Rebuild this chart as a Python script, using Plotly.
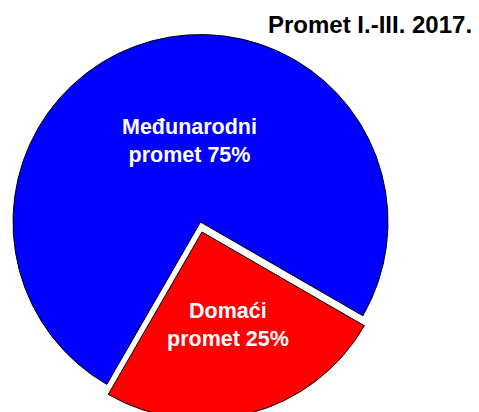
import plotly.graph_objects as go

# share of turnover, Jan-Mar 2017
categories = ["Međunarodni promet", "Domaći promet"]
shares = [75, 25]
colors = ["#0000FF", "#FF0000"]
title = "Promet I.-III. 2017."

# page body adds an 8px offset, so positions below are screen px - 8
W, H = 479, 420
FONT = "Liberation Sans, Arial, sans-serif"
CLEAR = "rgba(0,0,0,0)"


def dom(cx, cy, r):
    return dict(x=[(cx - r) / W, (cx + r) / W], y=[1 - (cy + r) / H, 1 - (cy - r) / H])


def slice_style(show):
    # show only the slice at index `show`, the other is left transparent
    fill = [c if i == show else CLEAR for i, c in enumerate(colors)]
    edge = ["black" if i == show else CLEAR for i in range(len(colors))]
    return dict(colors=fill, line=dict(color=edge, width=1))


fig = go.Figure()
# main (international) slice
fig.add_trace(go.Pie(labels=categories, values=shares, sort=False, direction="clockwise",
                     rotation=210, marker=slice_style(0), textinfo="none",
                     showlegend=False, hoverinfo="skip", domain=dom(192.5, 214, 187.5)))
# exploded domestic slice
fig.add_trace(go.Pie(labels=categories, values=shares, sort=False, direction="clockwise",
                     rotation=210, marker=slice_style(1), textinfo="none",
                     showlegend=False, hoverinfo="skip", domain=dom(194, 224, 187.5)))


def label(i):
    word, rest = categories[i].split(" ", 1)
    return "<b>%s<br>%s %d%%</b>" % (word, rest, shares[i])


ann = [
    dict(text=label(0), x=181.5 / W, y=1 - 132.5 / H),
    dict(text=label(1), x=219.5 / W, y=1 - 317 / H),
]
for a in ann:
    a.update(xref="paper", yref="paper", xanchor="center", yanchor="middle", showarrow=False,
             font=dict(family=FONT, size=21.5, color="white"))
ann.append(dict(text="<b>%s</b>" % title, x=466 / W, y=1 - 17 / H, xref="paper", yref="paper",
                xanchor="right", yanchor="middle", showarrow=False,
                font=dict(family=FONT, size=24, color="black")))

fig.update_layout(width=W, height=H, margin=dict(l=0, r=0, t=0, b=0),
                  paper_bgcolor="white", plot_bgcolor="white", annotations=ann)
fig.write_html("out.html")
